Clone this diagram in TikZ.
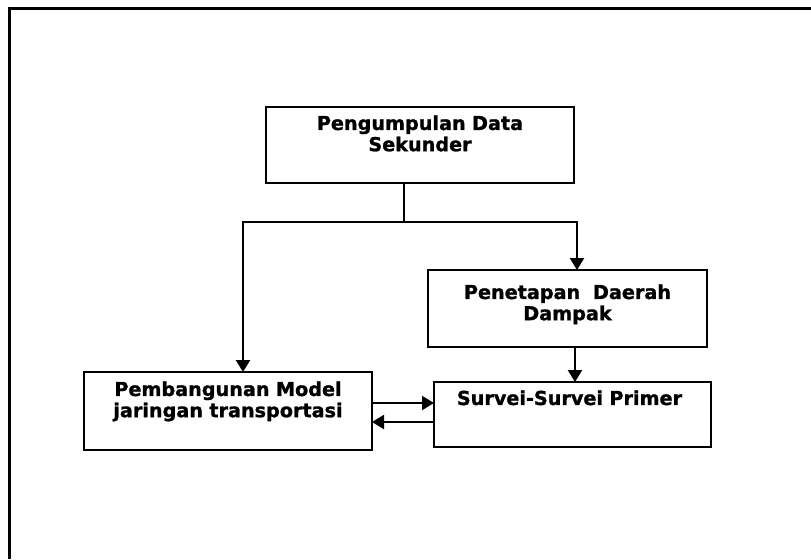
\documentclass[tikz,border=0pt]{standalone}
\usepackage{fontspec}
\setmainfont{DejaVu Sans}[BoldFeatures={FakeBold=1.2}]
\usetikzlibrary{calc,arrows.meta}

\tikzset{
  flowbox/.style={draw, line width=1.1pt, inner sep=0pt, outer sep=0pt},
  flowtext/.style={anchor=north, align=center, inner sep=0pt, text width=135pt,
    font=\fontsize{9.6pt}{10.6pt}\selectfont\bfseries},
  flowline/.style={line width=1.1pt},
  flowarrow/.style={line width=1.1pt, -{Triangle[length=6pt,width=7pt]}}
}

\begin{document}
\begin{tikzpicture}[x=0.5pt,y=-0.5pt]
  \useasboundingbox (0,0) rectangle (811,559);
  % frame
  \draw[line width=1.5pt] (9,559) -- (9,8) -- (811,8);
  % boxes
  \node[flowbox, minimum width=154pt, minimum height=38pt] (data) at (420,145) {};
  \node[flowbox, minimum width=139.5pt, minimum height=38.5pt] (dampak) at (567.5,308.5) {};
  \node[flowbox, minimum width=144pt, minimum height=39pt] (model) at (228,411) {};
  \node[flowbox, minimum width=138.5pt, minimum height=32.5pt] (survei) at (572.5,414.5) {};
  % texts
  \node[flowtext] (datatxt) at (420,115) {Pengumpulan Data\\Sekunder};
  \node[flowtext] (dampaktxt) at (567.5,284) {Penetapan\ \ Daerah\\Dampak};
  \node[flowtext] (modeltxt) at (228,381) {Pembangunan Model\\jaringan transportasi};
  \node[flowtext] (surveitxt) at (569.5,390) {Survei-Survei Primer};
  % connectors
  \coordinate (split) at (404,222);
  \coordinate (leftend) at (243,222);
  \coordinate (rightend) at (577,222);
  \draw[flowline] (data.south -| split) -- (split);
  \draw[flowarrow] (split) -- (leftend) -- (leftend |- model.north);
  \draw[flowarrow] (split) -- (rightend) -- (rightend |- dampak.north);
  \coordinate (down) at ($(dampak.south)+(7.5,0)$);
  \draw[flowarrow] (down) -- (down |- survei.north);
  \coordinate (fwd) at ($(model.east)+(0,-8)$);
  \draw[flowarrow] (fwd) -- (fwd -| survei.west);
  \coordinate (back) at ($(survei.west)+(0,7.5)$);
  \draw[flowarrow] (back) -- (back -| model.east);
\end{tikzpicture}
\end{document}
